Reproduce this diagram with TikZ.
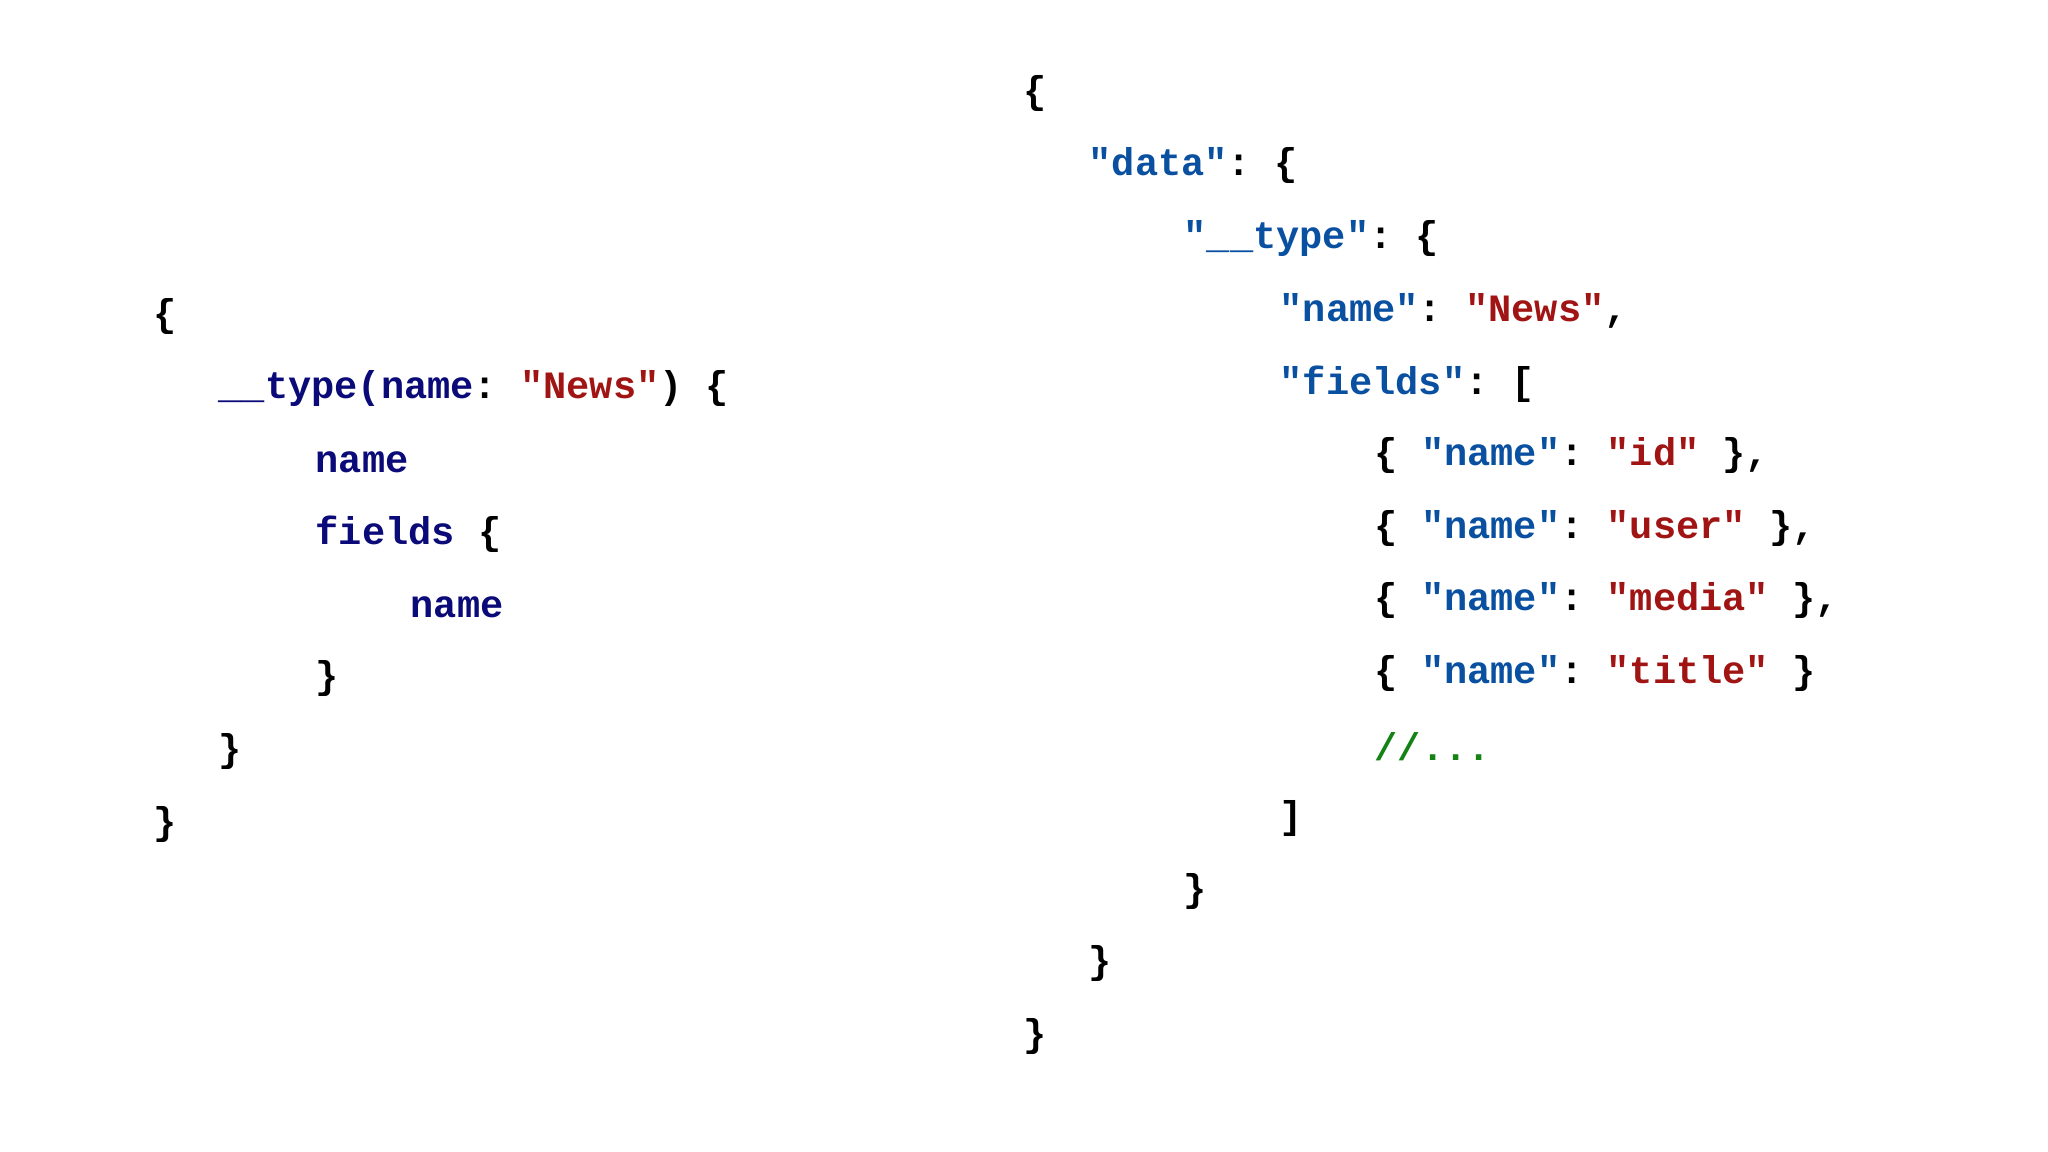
\documentclass[tikz,border=0pt]{standalone}
\usepackage{fontspec}
\setmonofont{Liberation Mono}
\definecolor{keyblue}{RGB}{10,80,160}
\definecolor{strred}{RGB}{160,20,20}
\definecolor{identnavy}{RGB}{10,10,120}
\definecolor{cmtgreen}{RGB}{20,130,20}
\newcommand{\jkey}[1]{\textcolor{keyblue}{#1}}
\newcommand{\jstr}[1]{\textcolor{strred}{#1}}
\newcommand{\gid}[1]{\textcolor{identnavy}{#1}}
\tikzset{
  codeline/.style={anchor=west,inner sep=0pt,font=\ttfamily\bfseries\fontsize{11pt}{13pt}\selectfont}
}
\begin{document}
\begin{tikzpicture}
  \useasboundingbox (0,0) rectangle (20.48,11.52);
  % query
  \node[codeline] (q1) at (1.53,8.35) {\{};
  \node[codeline] (q2) at (2.18,7.63) {\gid{\_\_type(name}: \jstr{"News"}) \{};
  \node[codeline] (q3) at (3.15,6.90) {\gid{name}};
  \node[codeline] (q4) at (3.15,6.18) {\gid{fields} \{};
  \node[codeline] (q5) at (4.10,5.45) {\gid{name}};
  \node[codeline] (q6) at (3.15,4.73) {\}};
  \node[codeline] (q7) at (2.18,4.00) {\}};
  \node[codeline] (q8) at (1.53,3.27) {\}};
  % response
  \node[codeline] (r1) at (10.23,10.58) {\{};
  \node[codeline] (r2) at (10.88,9.86) {\jkey{"data"}: \{};
  \node[codeline] (r3) at (11.83,9.13) {\jkey{"\_\_type"}: \{};
  \node[codeline] (r4) at (12.79,8.41) {\jkey{"name"}: \jstr{"News"},};
  \node[codeline] (r5) at (12.79,7.68) {\jkey{"fields"}: [};
  \node[codeline] (r6) at (13.74,6.96) {\{ \jkey{"name"}: \jstr{"id"} \},};
  \node[codeline] (r7) at (13.74,6.23) {\{ \jkey{"name"}: \jstr{"user"} \},};
  \node[codeline] (r8) at (13.74,5.51) {\{ \jkey{"name"}: \jstr{"media"} \},};
  \node[codeline] (r9) at (13.74,4.78) {\{ \jkey{"name"}: \jstr{"title"} \}};
  \node[codeline,text=cmtgreen] (r10) at (13.74,4.05) {//...};
  \node[codeline] (r11) at (12.79,3.33) {]};
  \node[codeline] (r12) at (11.83,2.60) {\}};
  \node[codeline] (r13) at (10.88,1.88) {\}};
  \node[codeline] (r14) at (10.23,1.15) {\}};
\end{tikzpicture}
\end{document}
